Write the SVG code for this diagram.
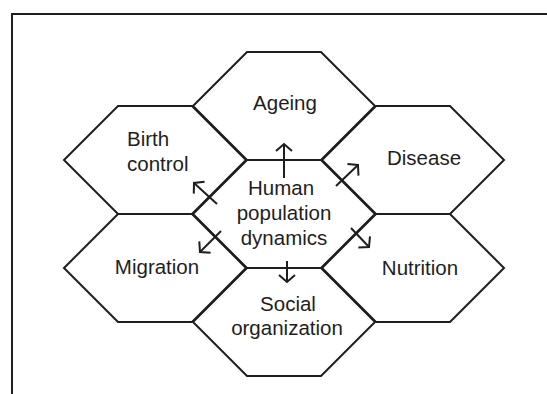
<svg xmlns="http://www.w3.org/2000/svg" width="547" height="394" viewBox="0 0 547 394">
<style>
.hex{fill:none;stroke:#1e1e1e;stroke-width:2;stroke-linejoin:miter}
.lbl{font-family:"Liberation Sans",Arial,sans-serif;font-size:20.5px;fill:#1e1e1e;text-anchor:middle}
.arr{fill:none;stroke:#1e1e1e;stroke-width:2;marker-end:url(#head)}
.frame{fill:none;stroke:#1e1e1e;stroke-width:2}
</style>
<defs>
<marker id="head" markerUnits="userSpaceOnUse" markerWidth="14" markerHeight="20" refX="9" refY="9" orient="auto" viewBox="0 0 14 20">
<path d="M2,1 L9,9 L2,17" fill="none" stroke="#1e1e1e" stroke-width="2"/>
</marker>
</defs>
<rect width="547" height="394" fill="#ffffff"/>
<path class="frame" d="M12,400 L12,14 L550,14"/>
<g id="ageing">
<polygon class="hex" points="193,106 247,52 321,52 375,106 321,160 247,160"/>
<text class="lbl" x="285" y="110">Ageing</text>
</g>
<g id="birth-control">
<polygon class="hex" points="64,160 118,106 192,106 246,160 192,214 118,214"/>
<text class="lbl" x="127" y="146" style="text-anchor:start">Birth</text>
<text class="lbl" x="127" y="171" style="text-anchor:start">control</text>
</g>
<g id="disease">
<polygon class="hex" points="322,160 376,106 450,106 504,160 450,214 376,214"/>
<text class="lbl" x="424" y="165">Disease</text>
</g>
<g id="migration">
<polygon class="hex" points="64,268 118,214 192,214 246,268 192,322 118,322"/>
<text class="lbl" x="157" y="274">Migration</text>
</g>
<g id="nutrition">
<polygon class="hex" points="322,268 376,214 450,214 504,268 450,322 376,322"/>
<text class="lbl" x="420" y="275">Nutrition</text>
</g>
<g id="social-organization">
<polygon class="hex" points="193,322 247,268 321,268 375,322 321,376 247,376"/>
<text class="lbl" x="288" y="311">Social</text>
<text class="lbl" x="287" y="335">organization</text>
</g>
<g id="human-population-dynamics">
<polygon class="hex" points="193,214 247,160 321,160 375,214 321,268 247,268"/>
<text class="lbl" x="281" y="195">Human</text>
<text class="lbl" x="284" y="220">population</text>
<text class="lbl" x="284" y="245">dynamics</text>
</g>
<g id="connectors">
<line class="arr" x1="284" y1="178" x2="284" y2="144"/>
<line class="arr" x1="336" y1="186" x2="358" y2="165"/>
<line class="arr" x1="217" y1="204" x2="194" y2="183"/>
<line class="arr" x1="221" y1="231" x2="200" y2="252"/>
<line class="arr" x1="351" y1="228" x2="369" y2="247"/>
<line class="arr" x1="287" y1="261" x2="287" y2="282"/>
</g>
</svg>
